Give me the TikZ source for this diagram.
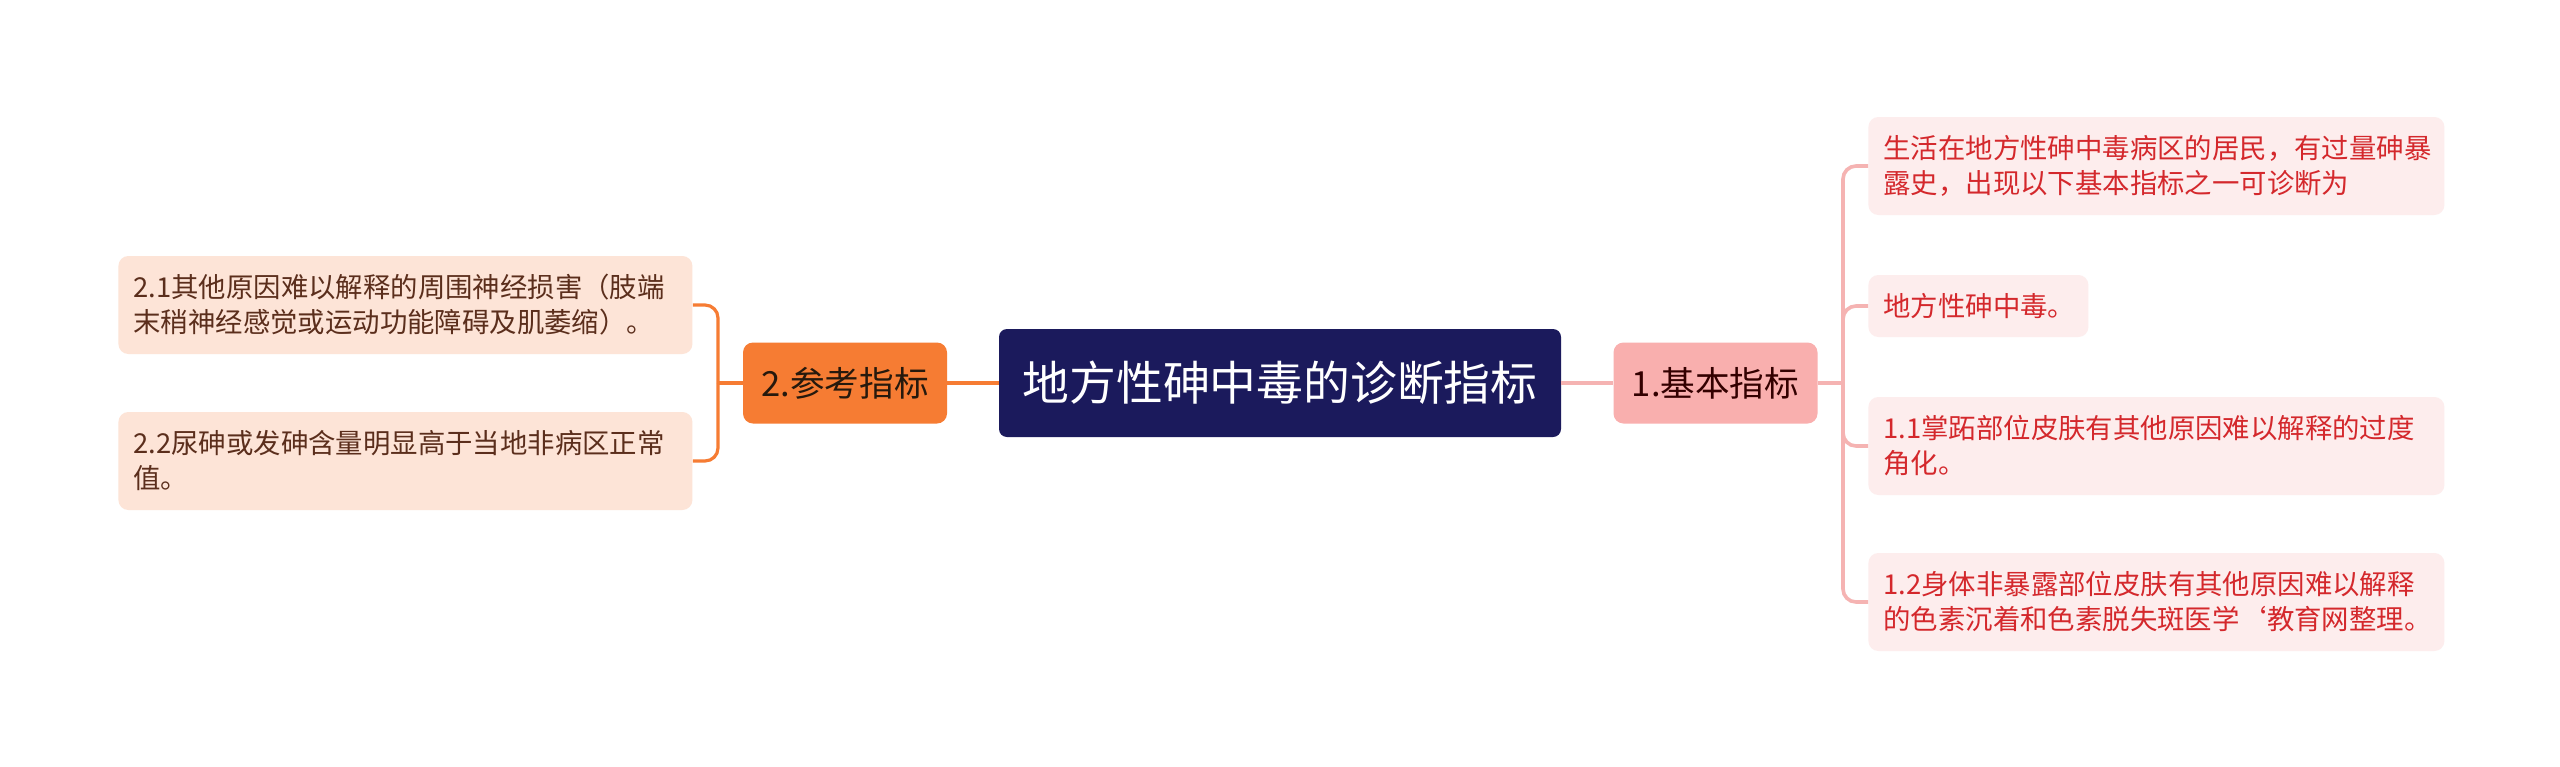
\documentclass[tikz,border=0pt]{standalone}
\usepackage{fontspec}
\setmainfont{Noto Sans CJK SC}
\usetikzlibrary{calc}

\definecolor{rootblue}{HTML}{1B1A5C}
\definecolor{refor}{HTML}{F67C33}
\definecolor{refleaf}{HTML}{FDE4D7}
\definecolor{reftext}{HTML}{5B2E1C}
\definecolor{basepink}{HTML}{F9AFAE}
\definecolor{baseline}{HTML}{F5B3B2}
\definecolor{baseleaf}{HTML}{FDEDED}
\definecolor{basetext}{HTML}{D4282C}

\begin{document}
\begin{tikzpicture}[x=0.5pt,y=-0.5pt,
    rootbox/.style={fill=rootblue, text=white, rounded corners=4pt, inner sep=0pt,
        minimum width=281pt, minimum height=54pt, font=\fontsize{23.4}{28}\selectfont},
    midbox/.style={rounded corners=5pt, inner sep=0pt, minimum width=102pt,
        minimum height=40.5pt, font=\fontsize{17.3}{21}\selectfont},
    leafbox/.style={rounded corners=5pt, inner xsep=7.5pt, inner ysep=0pt, anchor=west,
        align=left, minimum height=49pt, font=\fontsize{13.7}{17.5}\selectfont},
    oline/.style={draw=refor, line width=1.6pt, rounded corners=6.5pt},
    pline/.style={draw=baseline, line width=1.8pt, rounded corners=6.5pt}]
    %%Background
    \useasboundingbox[fill=white] (0,0) rectangle (2560,766);

    %%Root
    \node[rootbox] (root) at (1280,383) {地方性砷中毒的诊断指标};

    %%Branches
    \node[midbox, fill=refor, text=black!80!brown] (ref) at (845,383) {2.参考指标};
    \node[midbox, fill=basepink, text=black!80!red] (basic) at (1715.5,383) {1.基本指标};

    %%Left leaves
    \node[leafbox, fill=refleaf, text=reftext, text width=272pt] (r1) at (118,305)
        {2.1其他原因难以解释的周围神经损害（肢端\\末稍神经感觉或运动功能障碍及肌萎缩）。};
    \node[leafbox, fill=refleaf, text=reftext, text width=272pt] (r2) at (118,461)
        {2.2尿砷或发砷含量明显高于当地非病区正常\\值。};

    %%Right leaves
    \node[leafbox, fill=baseleaf, text=basetext, text width=273pt] (b1) at (1868,166)
        {生活在地方性砷中毒病区的居民，有过量砷暴\\露史，出现以下基本指标之一可诊断为};
    \node[leafbox, fill=baseleaf, text=basetext, text width=95pt, minimum height=31pt] (b2) at (1868,306)
        {地方性砷中毒。};
    \node[leafbox, fill=baseleaf, text=basetext, text width=273pt] (b3) at (1868,446)
        {1.1掌跖部位皮肤有其他原因难以解释的过度\\角化。};
    \node[leafbox, fill=baseleaf, text=basetext, text width=273pt] (b4) at (1868,602)
        {1.2身体非暴露部位皮肤有其他原因难以解释\\的色素沉着和色素脱失斑医学\symbol{96}教育网整理。};

    %%Hubs
    \coordinate (hubL) at (718,383);
    \coordinate (hubR) at (1843,383);

    %%Connectors
    \draw[oline] (root.west) -- (ref.east);
    \draw[oline] (ref.west) -- (hubL);
    \draw[oline] (r1.east) -| (hubL);
    \draw[oline] (r2.east) -| (hubL);

    \draw[pline] (root.east) -- (basic.west);
    \draw[pline] (basic.east) -- (hubR);
    \draw[pline] (b1.west) -| (hubR);
    \draw[pline] (b2.west) -| (hubR);
    \draw[pline] (b3.west) -| (hubR);
    \draw[pline] (b4.west) -| (hubR);
\end{tikzpicture}
\end{document}
